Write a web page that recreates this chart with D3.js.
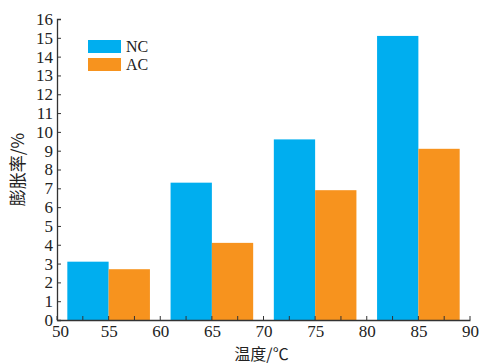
<!DOCTYPE html>
<html>
<head>
<meta charset="utf-8">
<script src="https://cdn.jsdelivr.net/npm/d3@7"></script>
<style>
  body { margin: 0; background: #fff; }
  svg text { font-family: "Liberation Serif", "Times New Roman", serif; fill: #222; }
  .cjk { font-family: "Noto Sans CJK SC", sans-serif; }
</style>
</head>
<body>
<div id="chart"></div>
<script>
'use strict';

// data
var temps = [55, 65, 75, 85],
    ncValues = [3.1, 7.3, 9.6, 15.1],
    acValues = [2.7, 4.1, 6.9, 9.1],
    seriesNames = ['NC', 'AC'],
    xTicks = [50, 55, 60, 65, 70, 75, 80, 85, 90],
    yTicks = d3.range(0, 17);

var colors = {NC: '#00aeef', AC: '#f7931e'};

var w = 482, h = 364,
    margin = {left: 57, right: 12, top: 19, bottom: 44};

var svg = d3.select('#chart').append('svg')
    .attr('width', w)
    .attr('height', h);

var x = d3.scaleLinear().domain([50, 90]).range([margin.left, w - margin.right]),
    y = d3.scaleLinear().domain([0, 16]).range([h - margin.bottom, margin.top]);

var barW = 4;

// bars
var gBars = svg.append('g');
gBars.selectAll('.nc').data(temps).enter().append('rect')
    .attr('class', 'nc')
    .attr('x', function(d){ return x(d - barW); })
    .attr('width', function(d){ return x(d) - x(d - barW); })
    .attr('y', function(d, i){ return y(ncValues[i]); })
    .attr('height', function(d, i){ return y(0) - y(ncValues[i]); })
    .style('fill', colors.NC);
gBars.selectAll('.ac').data(temps).enter().append('rect')
    .attr('class', 'ac')
    .attr('x', function(d){ return x(d); })
    .attr('width', function(d){ return x(d + barW) - x(d); })
    .attr('y', function(d, i){ return y(acValues[i]); })
    .attr('height', function(d, i){ return y(0) - y(acValues[i]); })
    .style('fill', colors.AC);

// axes
var gx = svg.append('g')
    .attr('transform', 'translate(0,' + y(0) + ')')
    .call(d3.axisBottom(x).tickValues(xTicks).tickSize(0).tickPadding(5));
gx.append('g').selectAll('line').data(d3.range(50, 90.1, 2.5)).enter().append('line')
    .attr('x1', function(d){ return x(d); })
    .attr('x2', function(d){ return x(d); })
    .attr('y1', 0)
    .attr('y2', -4)
    .style('stroke', '#333');

var gy = svg.append('g')
    .attr('transform', 'translate(' + x(50) + ',0)')
    .call(d3.axisLeft(y).tickValues(yTicks).tickSize(-4).tickPadding(4));

[gx, gy].forEach(function(g){
    g.select('.domain').style('stroke', '#333').style('stroke-width', 1.3);
    g.selectAll('.tick line').style('stroke', '#333');
    g.selectAll('.tick text')
        .style('font-family', '"Liberation Serif", serif')
        .style('font-size', '17px')
        .style('fill', '#222');
});
// nudge the corner label so "0" and "50" don't collide
gx.selectAll('.tick text').filter(function(d){ return d === 50; }).attr('dx', 3);

// axis titles
svg.append('text')
    .attr('class', 'cjk')
    .attr('x', x(70) - 2)
    .attr('y', h - 4)
    .attr('text-anchor', 'middle')
    .style('font-size', '16px')
    .text('温度/℃');

svg.append('text')
    .attr('class', 'cjk')
    .attr('transform', 'translate(24,' + y(8) + ') rotate(-90)')
    .attr('text-anchor', 'middle')
    .style('font-size', '17px')
    .text('膨胀率/%');

// legend
var legend = svg.append('g').attr('transform', 'translate(88,40)');
seriesNames.forEach(function(name, i){
    legend.append('rect')
        .attr('x', 0)
        .attr('y', i * 18)
        .attr('width', 33)
        .attr('height', 13)
        .style('fill', colors[name]);
    legend.append('text')
        .attr('x', 38)
        .attr('y', i * 18 + 12)
        .style('font-size', '16px')
        .text(name);
});
</script>
</body>
</html>
